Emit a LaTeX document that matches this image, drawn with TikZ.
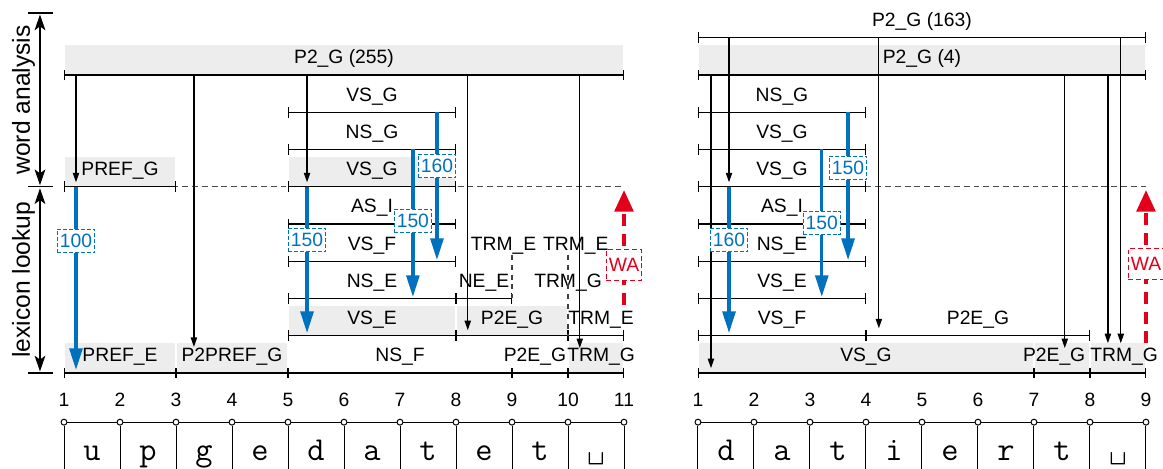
\documentclass[tikz,border=0pt]{standalone}
\usepackage{fontspec}
\setmainfont{Liberation Sans}
\usetikzlibrary{arrows.meta,calc}

\definecolor{chartblue}{RGB}{0,114,189}
\definecolor{chartred}{RGB}{226,0,26}
\definecolor{bandgray}{RGB}{237,237,237}

% interval |--| on row #5 from #3 to #4, label above (shifted by #1)
\newcommand{\ival}[6][0]{%
  \draw[ivl] (#3,#5) -- (#4,#5);
  \node[lbl] (#2) at ({(#3+#4)/2+#1},#5-0.48) {#6};}
% the same on a grey band
\newcommand{\ivalg}[6][0]{%
  \fill[bandgray] (#3+0.015,#5-0.8) rectangle (#4-0.015,#5);
  \ival[#1]{#2}{#3}{#4}{#5}{#6}}
% vertical connector in column #3 from row #4 to row #5
\newcommand{\drop}[5][parr]{%
  \coordinate (#2a) at (#3,#4);
  \coordinate (#2b) at (#3,#5);
  \draw[#1] (#2a) -- (#2b);}

\begin{document}
\begin{tikzpicture}[x=1cm, y=-0.66518cm,
    font=\fontsize{9.8}{12}\selectfont,
    ivl/.style={line width=0.7pt, {Bar[width=5.5pt]}-{Bar[width=5.5pt]}},
    lbl/.style={inner sep=0pt, text height=7pt, text depth=0pt},
    sep/.style={black!70, line width=0.5pt, dash pattern=on 3pt off 2pt},
    rej/.style={black!75, line width=0.6pt, dash pattern=on 2.5pt off 2.5pt},
    parr/.style={line width=0.6pt, -{Triangle[length=4.8pt,width=3.2pt]}},
    barr/.style={chartblue, line width=1.7pt, -{Triangle[length=11pt,width=6.5pt]}},
    bval/.style={draw=chartblue, fill=white, text=chartblue, line width=0.5pt,
      dash pattern=on 2pt off 1pt, inner sep=1pt, minimum width=19pt, minimum height=12pt},
    warr/.style={chartred, line width=2pt, dash pattern=on 6pt off 4pt,
      -{Triangle[length=11pt,width=9.5pt]}},
    wabox/.style={draw=chartred, fill=white, text=chartred, line width=0.6pt,
      dash pattern=on 2.5pt off 1.5pt, inner sep=1pt, minimum width=18pt, minimum height=15.5pt},
    axarr/.style={line width=0.6pt, shorten <=0.8pt, shorten >=0.8pt,
      {Stealth[length=8pt,width=5.5pt,inset=2pt]}-{Stealth[length=8pt,width=5.5pt,inset=2pt]}},
    posdot/.style={circle, draw, fill=white, inner sep=0pt, minimum size=3pt, line width=0.5pt},
    chr/.style={font=\fontsize{17}{17}\selectfont\ttfamily, anchor=base, inner sep=0pt},
    side/.style={rotate=90, font=\fontsize{12.5}{14}\selectfont}]
  \useasboundingbox (0,-2.013) rectangle (20.768,10.577);

  % phase axis
  \foreach \n/\r in {top/-1.664, mid/3, bot/8} {
    \coordinate (\n-l) at (0.5,\r);
    \coordinate (\n-r) at (0.946,\r);
    \coordinate (\n) at (0.714,\r);
    \draw[line width=0.6pt] (\n-l) -- (\n-r);
  }
  \draw[axarr] (top) -- (mid);
  \draw[axarr] (mid) -- (bot);
  \node[side] (wordan) at (0.42,0.67) {word analysis};
  \node[side] (lexlook) at (0.42,5.5) {lexicon lookup};

  % upgedatet
  \begin{scope}[xshift=0.1429cm]
    \draw[sep] (1,3) -- (11,3);
    \ivalg{lpg}{1}{11}{0}{P2\_G (255)}
    \ival{lvsga}{5}{8}{1}{VS\_G}
    \ival{lnsg}{5}{8}{2}{NS\_G}
    \ivalg{lprefg}{1}{3}{3}{PREF\_G}
    \ivalg{lvsgb}{5}{8}{3}{VS\_G}
    \ival{lasi}{5}{8}{4}{AS\_I}
    \ival{lvsf}{5}{8}{5}{VS\_F}
    \ival{lnse}{5}{8}{6}{NS\_E}
    \ival{lnee}{8}{9}{6}{NE\_E}
    \ivalg{lvse}{5}{8}{7}{VS\_E}
    \ivalg{lpega}{8}{10}{7}{P2E\_G}
    \ival[0.09]{ltrme}{10}{11}{7}{TRM\_E}
    \ivalg{lprefe}{1}{3}{8}{PREF\_E}
    \ivalg{lppref}{3}{5}{8}{P2PREF\_G}
    \ival{lnsf}{5}{9}{8}{NS\_F}
    \ival[-0.09]{lpegb}{9}{10}{8}{P2E\_G}
    \ivalg[0.09]{ltrmg}{10}{11}{8}{TRM\_G}
    \node[lbl] (ltrmea) at (8.85,4.52) {TRM\_E};
    \node[lbl] (ltrmeb) at (10.14,4.52) {TRM\_E};
    \node[lbl] (ltrmgx) at (10,5.52) {TRM\_G};
    \drop[rej]{lda}{9}{4.83}{6}
    \drop[rej]{ldb}{10}{4.83}{7}

    \drop{lpa}{1.214}{0}{2.88}
    \drop{lpb}{3.32}{0}{7.30}
    \drop{lpc}{5.34}{0}{2.88}
    \drop{lpd}{8.21}{0}{6.85}
    \drop{lpe}{10.21}{0}{7.33}

    \drop[barr]{lba}{1.214}{3}{7.92}
    \drop[barr]{lbb}{5.34}{3}{6.93}
    \drop[barr]{lbc}{7.23}{2}{5.96}
    \drop[barr]{lbd}{7.66}{1}{4.97}
    \node[bval] (lva) at (1.214,4.46) {100};
    \node[bval] (lvb) at (5.34,4.43) {150};
    \node[bval] (lvc) at (7.23,3.92) {150};
    \node[bval] (lvd) at (7.66,2.44) {160};

    \drop[warr]{lwa}{11}{6.17}{3.09}
    \node[wabox] (lwabox) at (11,5.10) {WA};

    \foreach \k in {1,...,11} {
      \node[lbl] (lnum\k) at (\k,8.72) {\k};
      \node[posdot] (ldot\k) at (\k,9.32) {};
      \coordinate (lfoot\k) at (\k,10.7);
      \draw[line width=0.5pt] (ldot\k) -- (lfoot\k);
    }
    \foreach \k [remember=\k as \j (initially 1)] in {2,...,11}
      \draw[line width=0.5pt] (ldot\j) -- (ldot\k);
    \foreach \c [count=\k] in {u,p,g,e,d,a,t,e,t,\textvisiblespace}
      \node[chr] (lchr\k) at (\k+0.5,10.34) {\c};
  \end{scope}

  % datiert
  \begin{scope}[xshift=11.464cm]
    \draw[sep] (1,3) -- (9,3);
    \ival{rpgt}{1}{9}{-1}{P2\_G (163)}
    \ivalg{rpg}{1}{9}{0}{P2\_G (4)}
    \ival{rnsg}{1}{4}{1}{NS\_G}
    \ival{rvsga}{1}{4}{2}{VS\_G}
    \ival{rvsgb}{1}{4}{3}{VS\_G}
    \ival{rasi}{1}{4}{4}{AS\_I}
    \ival{rnse}{1}{4}{5}{NS\_E}
    \ival{rvse}{1}{4}{6}{VS\_E}
    \ival{rvsf}{1}{4}{7}{VS\_F}
    \ival{rpega}{4}{8}{7}{P2E\_G}
    \ivalg{rvsgc}{1}{7}{8}{VS\_G}
    \ivalg[-0.14]{rpegb}{7}{8}{8}{P2E\_G}
    \ivalg[0.11]{rtrmg}{8}{9}{8}{TRM\_G}

    \drop{rpa}{1.554}{-1}{2.88}
    \drop{rpb}{1.232}{0}{7.87}
    \drop{rpc}{4.23}{-1}{6.8}
    \drop{rpd}{7.55}{0}{7.33}
    \drop{rpe}{8.32}{0}{7.2}
    \drop{rpf}{8.55}{-1}{7.2}

    \drop[barr]{rba}{1.554}{3}{6.93}
    \drop[barr]{rbb}{3.21}{2}{5.96}
    \drop[barr]{rbc}{3.68}{1}{4.97}
    \node[bval] (rva) at (1.554,4.43) {160};
    \node[bval] (rvb) at (3.21,3.97) {150};
    \node[bval] (rvc) at (3.68,2.50) {150};

    \drop[warr]{rwa}{9}{7.2}{3.09}
    \node[wabox] (rwabox) at (9,5.07) {WA};

    \foreach \k in {1,...,9} {
      \node[lbl] (rnum\k) at (\k,8.72) {\k};
      \node[posdot] (rdot\k) at (\k,9.32) {};
      \coordinate (rfoot\k) at (\k,10.7);
      \draw[line width=0.5pt] (rdot\k) -- (rfoot\k);
    }
    \foreach \k [remember=\k as \j (initially 1)] in {2,...,9}
      \draw[line width=0.5pt] (rdot\j) -- (rdot\k);
    \foreach \c [count=\k] in {d,a,t,i,e,r,t,\textvisiblespace}
      \node[chr] (rchr\k) at (\k+0.5,10.34) {\c};
  \end{scope}
\end{tikzpicture}
\end{document}
